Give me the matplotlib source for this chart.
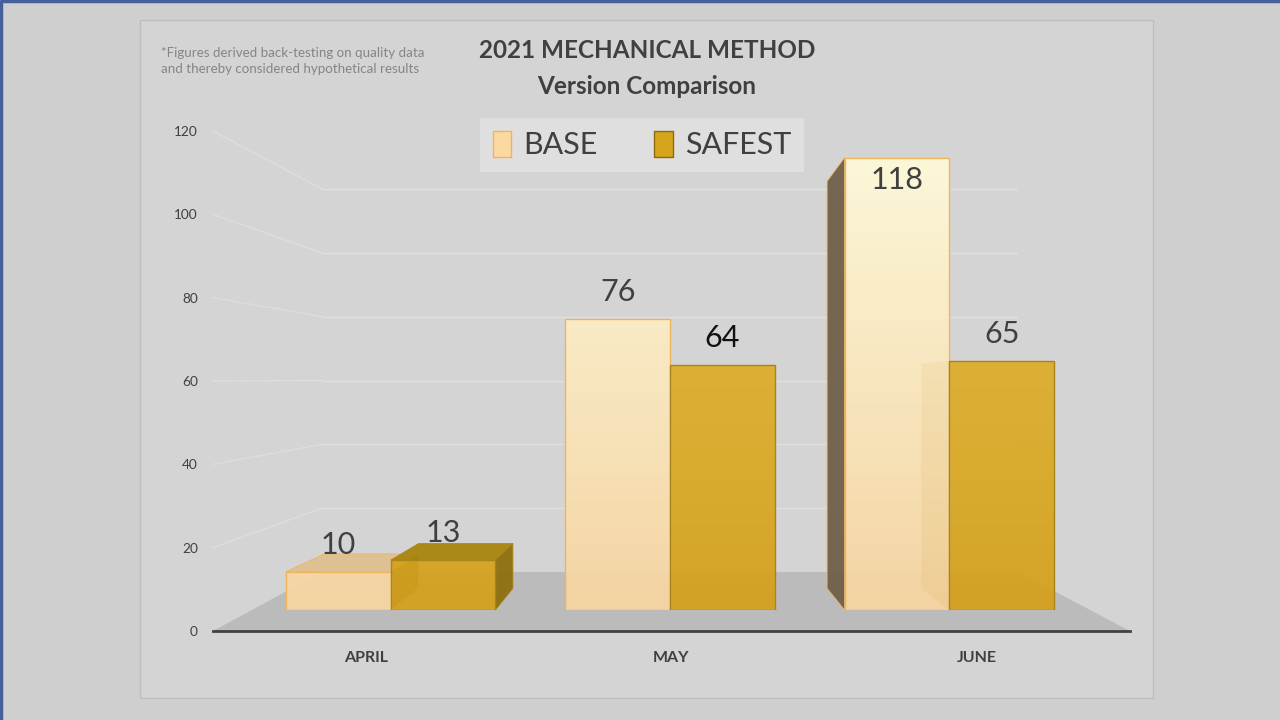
import matplotlib
matplotlib.use('Agg')
import matplotlib.pyplot as plt
import numpy as np
from matplotlib.patches import Polygon, Rectangle, Patch
from matplotlib.lines import Line2D
from matplotlib.colors import LinearSegmentedColormap

# ---------------- data ----------------
categories = ['APRIL', 'MAY', 'JUNE']
base_values = [10, 76, 118]
safest_values = [13, 64, 65]
series_names = ['BASE', 'SAFEST']
y_ticks = [0, 20, 40, 60, 80, 100, 120]
title_lines = ['2021 MECHANICAL METHOD', 'Version Comparison']
footnote = '*Figures derived back-testing on quality data\nand thereby considered hypothetical results'

# ---------------- style ----------------
FONT = 'Lato'
TXT = '#404040'
plt.rcParams['font.family'] = [FONT, 'DejaVu Sans']

W, H = 1280, 720
fig = plt.figure(figsize=(12.8, 7.2), dpi=100)
fig.patch.set_facecolor('#D0CFD0')


def fx(px):
    return px / W


def fy(py):
    return 1 - py / H


def box(l, t, r, b):
    return [fx(l), fy(b), fx(r) - fx(l), fy(t) - fy(b)]


# panel + outer border
fig.add_artist(Rectangle((fx(140), fy(698)), fx(1153) - fx(140), fy(20) - fy(698),
                         transform=fig.transFigure, facecolor='#D5D4D5',
                         edgecolor='#BEBEBE', lw=1, zorder=-2))
fig.add_artist(Line2D([0.001, 0.001, 1], [0, 0.999, 0.999], transform=fig.transFigure,
                      color='#44609A', lw=2.5, zorder=-1))

ymax = 120
n = len(categories)
x = np.arange(n)
xlim = (-0.5, n - 0.5)

ax_back = fig.add_axes(box(322, 189, 1018, 572), zorder=0)
ax_front = fig.add_axes(box(213, 131, 1130, 631), zorder=1)
ax_bar = fig.add_axes(box(251, 150, 1089, 610), zorder=2)
for a in (ax_back, ax_front, ax_bar):
    a.set_xlim(*xlim)
    a.set_ylim(0, ymax)
    a.patch.set_alpha(0)
    for s in a.spines.values():
        s.set_visible(False)
for a in (ax_back, ax_bar):
    a.set_xticks([])
    a.set_yticks([])

ax_front.set_yticks(y_ticks)
ax_front.set_yticklabels([str(v) for v in y_ticks], fontsize=9.8, color=TXT)
ax_front.set_xticks(x)
ax_front.set_xticklabels(categories, fontsize=11.5, fontweight='bold', color=TXT)
ax_front.tick_params(axis='y', length=0, pad=11)
ax_front.tick_params(axis='x', length=0, pad=14.5)
ax_front.spines['bottom'].set_visible(True)
ax_front.spines['bottom'].set_color('#404040')
ax_front.spines['bottom'].set_linewidth(2)

to_fig = fig.transFigure.inverted()

# gridlines: back wall + side wall
for v in y_ticks[1:]:
    ax_back.axhline(v, color='white', alpha=0.28, lw=1)
    p0 = to_fig.transform(ax_front.transData.transform((xlim[0], v)))
    p1 = to_fig.transform(ax_back.transData.transform((xlim[0], v)))
    fig.add_artist(Line2D([p0[0], p1[0]], [p0[1], p1[1]], transform=fig.transFigure,
                          color='white', alpha=0.22, lw=1, zorder=0.5))

# floor
floor_pts = [ax_front.transData.transform((xlim[0], 0)),
             ax_front.transData.transform((xlim[1], 0)),
             ax_back.transData.transform((xlim[1], 0)),
             ax_back.transData.transform((xlim[0], 0))]
floor_pts = to_fig.transform(np.array(floor_pts))
fig.add_artist(Polygon(floor_pts, closed=True, transform=fig.transFigure,
                       facecolor='#BBBBBB', edgecolor='none', zorder=0.6))

# ---------------- bars ----------------
w = 0.375
offsets = [-w / 2, w / 2]
series = [
    dict(vals=base_values, cmap=['#F7D5A0', '#FFFBDA'], edge='#F0B45E',
         side='#6F604A', top='#DEC08F'),
    dict(vals=safest_values, cmap=['#D4A01A', '#E6BB36'], edge='#A8841A',
         side='#8F6F0E', top='#A9850F'),
]
grad = np.linspace(0, 1, 256).reshape(-1, 1)
vp = ax_bar.transAxes.transform((0.5, 0.47))
k = 0.1
inv = ax_bar.transData.inverted()


def back(p):
    return p + k * (vp - p)


all_bars = []
for s, o, name in zip(series, offsets, series_names):
    bars = ax_bar.bar(x + o, s['vals'], w, facecolor='none', edgecolor=s['edge'],
                      lw=1, zorder=3.5, label=name)
    cmap = LinearSegmentedColormap.from_list(name, s['cmap'])
    for rect in bars:
        im = ax_bar.imshow(grad, extent=(xlim[0], xlim[1], 0, ymax), origin='lower',
                           aspect='auto', cmap=cmap, zorder=3, alpha=0.93)
        im.set_clip_path(rect)
        # perspective faces
        x0 = rect.get_x()
        x1 = x0 + rect.get_width()
        h = rect.get_height()
        bl = ax_bar.transData.transform((x0, 0))
        br = ax_bar.transData.transform((x1, 0))
        tl = ax_bar.transData.transform((x0, h))
        tr = ax_bar.transData.transform((x1, h))
        faces = []
        if tl[1] < vp[1]:
            faces.append(([tl, tr, back(tr), back(tl)], s['top']))
        if bl[0] > vp[0] + 1:
            faces.append(([bl, tl, back(tl), back(bl)], s['side']))
        if br[0] < vp[0] - 1:
            faces.append(([br, tr, back(tr), back(br)], s['side']))
        for pts, col in faces:
            ax_bar.add_patch(Polygon(inv.transform(np.array(pts)), closed=True,
                                     facecolor=col, edgecolor=s['edge'], lw=0.6,
                                     alpha=0.95, zorder=2, clip_on=False))
    all_bars.append(bars)

ax_bar.set_xlim(*xlim)
ax_bar.set_ylim(0, ymax)

# data labels
label_colors = [[TXT, TXT, TXT], [TXT, '#111111', TXT]]
for bars, s, cols in zip(all_bars, series, label_colors):
    for rect, v, c in zip(bars, s['vals'], cols):
        cx = rect.get_x() + rect.get_width() / 2
        dy = -16 if v > 0.9 * ymax else 19.5
        ax_bar.annotate(str(v), (cx, v), xytext=(0, dy), textcoords='offset points',
                        ha='center', va='center', fontsize=22, color=c,
                        annotation_clip=False, zorder=5)

# ---------------- text ----------------
fig.text(fx(647), fy(50), title_lines[0], ha='center', va='center', fontsize=17.5,
         fontweight='bold', color=TXT)
fig.text(fx(647), fy(86), title_lines[1], ha='center', va='center', fontsize=17.5,
         fontweight='bold', color=TXT)
fig.text(fx(161), fy(61), footnote, ha='left', va='center', fontsize=9.6,
         color='#858585', linespacing=1.35)

handles = [Patch(facecolor='#FAD9A2', edgecolor='#F0B45E', label=series_names[0]),
           Patch(facecolor='#D6A51E', edgecolor='#8C6A10', label=series_names[1])]
leg = fig.legend(handles=handles, loc='center', bbox_to_anchor=(fx(642), fy(145)),
                 ncol=2, fontsize=22, frameon=True, facecolor='#E3E2E3',
                 edgecolor='none', framealpha=0.85, fancybox=False,
                 handlelength=0.6, handleheight=0.95, handletextpad=0.4,
                 columnspacing=1.85, borderpad=0.42)
for t in leg.get_texts():
    t.set_color(TXT)

fig.savefig('out.png', dpi=100, facecolor=fig.get_facecolor())
